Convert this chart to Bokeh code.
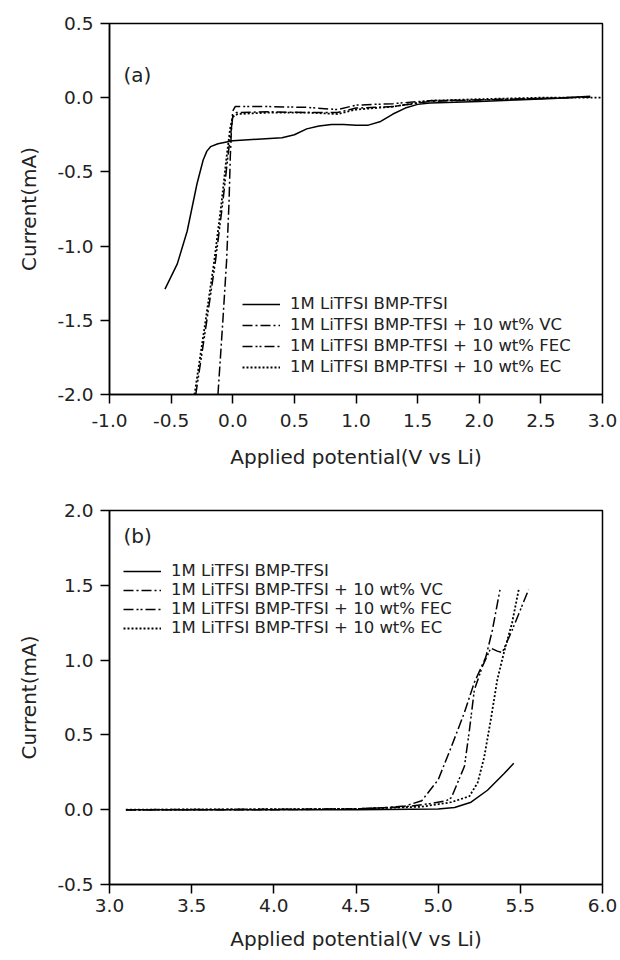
from bokeh.plotting import figure
from bokeh.layouts import column
from bokeh.models import Legend, LegendItem, Label, FixedTicker, PrintfTickFormatter
from bokeh.embed import file_html
from bokeh.resources import INLINE

FONT = "DejaVu Sans"

# ---------------- data: panel (a) ----------------
a_base_x = [-0.55, -0.45, -0.37, -0.29, -0.24, -0.21, -0.18, -0.12, 0.0, 0.2, 0.4, 0.5, 0.6, 0.7,
            0.8, 0.9, 1.0, 1.1, 1.2, 1.3, 1.4, 1.5, 1.6, 1.8, 2.0, 2.3, 2.6, 2.9]
a_base_y = [-1.29, -1.12, -0.90, -0.58, -0.42, -0.36, -0.33, -0.31, -0.29, -0.28, -0.27, -0.25, -0.21, -0.19,
            -0.18, -0.18, -0.185, -0.185, -0.16, -0.11, -0.07, -0.045, -0.035, -0.03, -0.025, -0.015, -0.005, 0.01]

a_vc_x = [-0.12, -0.08, -0.05, -0.03, -0.02, -0.01, 0.0, 0.03, 0.3, 0.6, 0.85, 1.0, 1.3, 1.6, 2.0, 2.5, 2.9]
a_vc_y = [-2.0, -1.5, -1.1, -0.7, -0.4, -0.2, -0.13, -0.10, -0.095, -0.10, -0.10, -0.07, -0.06, -0.025, -0.015, -0.005, 0.005]

a_fec_x = [-0.30, -0.21, -0.14, -0.08, -0.04, -0.01, 0.0, 0.02, 0.3, 0.6, 0.85, 1.0, 1.3, 1.6, 2.0, 2.5, 2.9]
a_fec_y = [-2.0, -1.5, -1.1, -0.7, -0.4, -0.2, -0.09, -0.06, -0.06, -0.065, -0.08, -0.05, -0.04, -0.02, -0.015, -0.005, 0.005]

a_ec_x = [-0.31, -0.22, -0.15, -0.09, -0.05, -0.02, 0.0, 0.04, 0.3, 0.6, 0.85, 1.0, 1.3, 1.6, 2.0, 2.5, 3.0]
a_ec_y = [-2.0, -1.5, -1.1, -0.7, -0.4, -0.2, -0.13, -0.11, -0.10, -0.10, -0.11, -0.08, -0.06, -0.02, -0.01, 0.0, 0.0]

# ---------------- data: panel (b) ----------------
b_base_x = [3.1, 4.0, 4.5, 5.0, 5.1, 5.2, 5.3, 5.4, 5.46]
b_base_y = [0.0, 0.0, 0.0, 0.005, 0.015, 0.05, 0.13, 0.24, 0.31]

b_vc_x = [3.1, 4.0, 4.5, 4.7, 4.8, 4.9, 5.0, 5.08, 5.16, 5.22, 5.29, 5.33, 5.376]
b_vc_y = [0.0, 0.0, 0.005, 0.015, 0.025, 0.06, 0.2, 0.42, 0.65, 0.85, 1.02, 1.2, 1.47]

b_fec_x = [3.1, 4.5, 4.8, 4.95, 5.05, 5.08, 5.16, 5.19, 5.22, 5.27, 5.32, 5.36, 5.39, 5.45, 5.55]
b_fec_y = [0.0, 0.005, 0.02, 0.04, 0.06, 0.08, 0.29, 0.53, 0.80, 0.96, 1.08, 1.06, 1.05, 1.20, 1.47]

b_ec_x = [3.1, 4.5, 4.9, 5.08, 5.19, 5.24, 5.28, 5.32, 5.36, 5.40, 5.45, 5.49]
b_ec_y = [0.0, 0.005, 0.02, 0.05, 0.09, 0.18, 0.35, 0.60, 0.87, 1.05, 1.25, 1.47]

labels = ["1M LiTFSI BMP-TFSI",
          "1M LiTFSI BMP-TFSI + 10 wt% VC",
          "1M LiTFSI BMP-TFSI + 10 wt% FEC",
          "1M LiTFSI BMP-TFSI + 10 wt% EC"]

a_xticks = [-1.0, -0.5, 0.0, 0.5, 1.0, 1.5, 2.0, 2.5, 3.0]
a_yticks = [-2.0, -1.5, -1.0, -0.5, 0.0, 0.5]
b_xticks = [3.0, 3.5, 4.0, 4.5, 5.0, 5.5, 6.0]
b_yticks = [-0.5, 0.0, 0.5, 1.0, 1.5, 2.0]

dashes = ["solid", "10 3 2 3", "10 3 2 2 2 3", "2 2"]
widths = [1.5, 1.5, 1.5, 1.8]
TXT = "#222222"


def make_fig(xr, yr, xt, yt, top, bottom, tag, tagpos, series, legloc, legspacing,
             xstand, xlabstand):
    p = figure(width=620, height=480, x_range=xr, y_range=yr,
               output_backend="svg", toolbar_location=None,
               min_border_left=109, min_border_right=18,
               min_border_top=top, min_border_bottom=bottom)
    p.grid.visible = False
    p.outline_line_color = "black"
    p.outline_line_width = 1.5
    p.background_fill_color = "white"
    p.border_fill_color = "white"
    for ax, ticks in ((p.xaxis[0], xt), (p.yaxis[0], yt)):
        ax.ticker = FixedTicker(ticks=ticks, minor_ticks=[])
        ax.formatter = PrintfTickFormatter(format="%.1f")
        ax.major_tick_in = 0
        ax.major_tick_out = 9
        ax.minor_tick_out = 0
        ax.minor_tick_in = 0
        ax.axis_line_width = 1.5
        ax.major_tick_line_width = 1.5
        ax.major_label_text_font = FONT
        ax.major_label_text_font_size = "18.5px"
        ax.major_label_text_color = TXT
        ax.axis_label_text_font = FONT
        ax.axis_label_text_font_size = "20px"
        ax.axis_label_text_font_style = "normal"
        ax.axis_label_text_color = TXT
    p.xaxis.axis_label = "Applied potential(V vs Li)"
    p.yaxis.axis_label = "Current(mA)"
    p.xaxis.major_label_standoff = xstand
    p.xaxis.axis_label_standoff = xlabstand
    p.yaxis.major_label_standoff = 7
    p.yaxis.axis_label_standoff = 13

    items = []
    for (xs, ys), lab, d, w in zip(series, labels, dashes, widths):
        r = p.line(xs, ys, line_color="black", line_width=w, line_dash=d)
        items.append(LegendItem(label=lab, renderers=[r]))
    leg = Legend(items=items, location=legloc, border_line_color=None,
                 background_fill_alpha=0, padding=0, margin=0,
                 glyph_width=38, glyph_height=14, spacing=legspacing,
                 label_standoff=10, label_text_font=FONT,
                 label_text_font_size="16.5px", label_text_color=TXT,
                 label_height=14)
    p.add_layout(leg, "center")
    p.add_layout(Label(x=tagpos[0], y=tagpos[1], x_units="screen", y_units="screen",
                       text=tag, text_font=FONT, text_font_size="20px",
                       text_color=TXT, text_baseline="middle"))
    return p


pa = make_fig((-1.0, 3.0), (-2.0, 0.5), a_xticks, a_yticks, 23, 86, "(a)", (14, 320),
              [(a_base_x, a_base_y), (a_vc_x, a_vc_y), (a_fec_x, a_fec_y), (a_ec_x, a_ec_y)],
              (133, 18), 2, 10, 15)
pb = make_fig((3.0, 6.0), (-0.5, 2.0), b_xticks, b_yticks, 30, 76, "(b)", (14, 349),
              [(b_base_x, b_base_y), (b_vc_x, b_vc_y), (b_fec_x, b_fec_y), (b_ec_x, b_ec_y)],
              (14, 247), 0, 5, 12)

layout = column(pa, pb, spacing=0)
open("out.html", "w").write(file_html(layout, INLINE))
